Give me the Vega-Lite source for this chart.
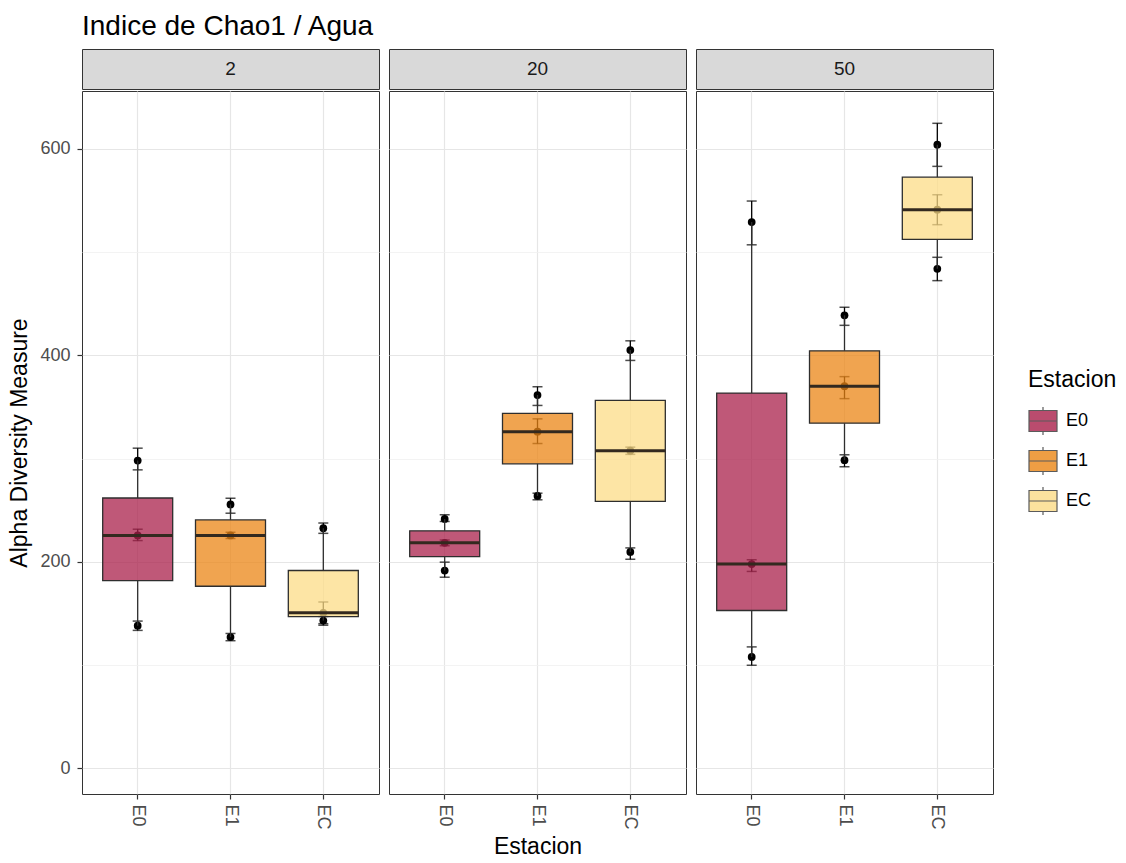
{
  "$schema": "https://vega.github.io/schema/vega-lite/v6.json",
  "padding": {"left": 8, "top": 12, "right": 5, "bottom": 5},
  "title": {"text": "Indice de Chao1 / Agua", "anchor": "start", "frame": "group", "fontSize": 28, "fontWeight": "normal", "color": "black", "font": "Liberation Sans", "offset": 8},
  "datasets": {
    "chao": [
      {"conc": "2", "est": "E0", "value": 298, "lo": 289, "hi": 310},
      {"conc": "2", "est": "E0", "value": 225.5, "lo": 220.5, "hi": 231.5},
      {"conc": "2", "est": "E0", "value": 138, "lo": 133.5, "hi": 142.5},
      {"conc": "2", "est": "E1", "value": 255.5, "lo": 247, "hi": 261.5},
      {"conc": "2", "est": "E1", "value": 225.5, "lo": 222.5, "hi": 228.5},
      {"conc": "2", "est": "E1", "value": 127, "lo": 123.5, "hi": 130.5},
      {"conc": "2", "est": "EC", "value": 232.5, "lo": 227.5, "hi": 237.5},
      {"conc": "2", "est": "EC", "value": 150.5, "lo": 140, "hi": 161},
      {"conc": "2", "est": "EC", "value": 143, "lo": 138.5, "hi": 147},
      {"conc": "20", "est": "E0", "value": 241.5, "lo": 239, "hi": 245.5},
      {"conc": "20", "est": "E0", "value": 218.3, "lo": 215.5, "hi": 221},
      {"conc": "20", "est": "E0", "value": 191.4, "lo": 185, "hi": 199.6},
      {"conc": "20", "est": "E1", "value": 361.5, "lo": 351.4, "hi": 369.5},
      {"conc": "20", "est": "E1", "value": 326, "lo": 314.5, "hi": 338.4},
      {"conc": "20", "est": "E1", "value": 263.7, "lo": 260, "hi": 266.4},
      {"conc": "20", "est": "EC", "value": 405, "lo": 395, "hi": 414},
      {"conc": "20", "est": "EC", "value": 307.6, "lo": 304, "hi": 311},
      {"conc": "20", "est": "EC", "value": 209.5, "lo": 202.4, "hi": 213.4},
      {"conc": "50", "est": "E0", "value": 529, "lo": 507, "hi": 549.4},
      {"conc": "50", "est": "E0", "value": 197.7, "lo": 190.6, "hi": 201.9},
      {"conc": "50", "est": "E0", "value": 107.8, "lo": 99.7, "hi": 117.5},
      {"conc": "50", "est": "E1", "value": 438.7, "lo": 429, "hi": 446.5},
      {"conc": "50", "est": "E1", "value": 370, "lo": 358, "hi": 379.3},
      {"conc": "50", "est": "E1", "value": 298.4, "lo": 292, "hi": 303.6},
      {"conc": "50", "est": "EC", "value": 604, "lo": 583, "hi": 624.7},
      {"conc": "50", "est": "EC", "value": 541, "lo": 526.5, "hi": 555.5},
      {"conc": "50", "est": "EC", "value": 483.7, "lo": 472.3, "hi": 494.9}
    ],
    "strips": [{"conc": "2"}, {"conc": "20"}, {"conc": "50"}]
  },
  "spacing": 8,
  "resolve": {"scale": {"color": "shared"}, "legend": {"color": "shared"}},
  "hconcat": [
    {
      "spacing": 0,
      "resolve": {"scale": {"color": "shared"}, "legend": {"color": "shared"}},
      "vconcat": [
        {
          "data": {"name": "strips"},
          "transform": [{"filter": "datum.conc === '2'"}],
          "width": 297, "height": 40,
          "view": {"fill": "#D9D9D9", "stroke": "#333333", "strokeWidth": 1},
          "mark": {"type": "text", "fontSize": 19, "color": "#1A1A1A", "font": "Liberation Sans"},
          "encoding": {"text": {"field": "conc"}}
        },
        {
          "data": {"name": "chao"},
          "transform": [{"filter": "datum.conc === '2'"}],
          "width": 297, "height": 703,
          "encoding": {
            "x": {"field": "est", "type": "nominal", "scale": {"type": "band", "domain": ["E0", "E1", "EC"], "paddingInner": 0, "paddingOuter": 0.1}, "axis": {"title": null, "labelAngle": 90, "grid": true, "bandPosition": 0.5}}
          },
          "layer": [
            {
              "mark": {"type": "errorbar", "color": "black", "thickness": 1.3, "ticks": {"size": 10, "thickness": 1.5, "color": "black"}},
              "encoding": {
                "y": {"field": "lo", "type": "quantitative", "scale": {"domain": [-25, 656], "nice": false, "zero": false}, "axis": {"title": "Alpha Diversity Measure", "values": [0, 200, 400, 600], "grid": true, "orient": "left"}},
                "y2": {"field": "hi"}
              }
            },
            {
              "mark": {"type": "circle", "size": 60, "color": "black", "opacity": 1},
              "encoding": {
                "y": {"field": "value", "type": "quantitative", "axis": {"title": null, "values": [100, 300, 500], "labels": false, "ticks": false, "grid": true, "gridColor": "#F0F0F0", "gridWidth": 0.8, "orient": "left"}}
              }
            },
            {
              "mark": {"type": "boxplot", "extent": "min-max", "size": 70, "box": {"stroke": "#2E2E2E", "strokeWidth": 1.3, "fillOpacity": 0.75}, "median": {"color": "#33291F", "thickness": 3, "opacity": 1}, "rule": {"color": "#2E2E2E", "strokeWidth": 1.3}, "ticks": false},
              "encoding": {
                "y": {"field": "value", "type": "quantitative", "axis": null},
                "color": {"field": "est", "type": "nominal", "title": "Estacion", "scale": {"domain": ["E0", "E1", "EC"], "range": ["#AA204B", "#EB8616", "#FCDC87"]},
                  "legend": {"orient": "none", "legendX": 946, "legendY": 320, "symbolType": "M-1,-0.75H1V0.75H-1Z M-1,0H1 M0,-0.75V-1 M0,0.75V1", "symbolSize": 784, "symbolStrokeColor": "#333333", "symbolStrokeWidth": 1.2, "symbolOpacity": 0.8, "titleFontSize": 23, "titleFontWeight": "normal", "titleColor": "black", "labelFontSize": 18, "labelColor": "black", "rowPadding": 6, "titlePadding": 14, "labelOffset": 8}}
              }
            }
          ],
          "resolve": {"axis": {"y": "independent"}}
        }
      ]
    },
    {
      "spacing": 0,
      "resolve": {"scale": {"color": "shared"}, "legend": {"color": "shared"}},
      "vconcat": [
        {
          "data": {"name": "strips"},
          "transform": [{"filter": "datum.conc === '20'"}],
          "width": 297, "height": 40,
          "view": {"fill": "#D9D9D9", "stroke": "#333333", "strokeWidth": 1},
          "mark": {"type": "text", "fontSize": 19, "color": "#1A1A1A", "font": "Liberation Sans"},
          "encoding": {"text": {"field": "conc"}}
        },
        {
          "data": {"name": "chao"},
          "transform": [{"filter": "datum.conc === '20'"}],
          "width": 297, "height": 703,
          "encoding": {
            "x": {"field": "est", "type": "nominal", "scale": {"type": "band", "domain": ["E0", "E1", "EC"], "paddingInner": 0, "paddingOuter": 0.1}, "axis": {"title": "Estacion", "labelAngle": 90, "grid": true, "bandPosition": 0.5}}
          },
          "layer": [
            {
              "mark": {"type": "errorbar", "color": "black", "thickness": 1.3, "ticks": {"size": 10, "thickness": 1.5, "color": "black"}},
              "encoding": {
                "y": {"field": "lo", "type": "quantitative", "scale": {"domain": [-25, 656], "nice": false, "zero": false}, "axis": {"title": null, "values": [0, 200, 400, 600], "labels": false, "ticks": false, "grid": true, "orient": "left"}},
                "y2": {"field": "hi"}
              }
            },
            {
              "mark": {"type": "circle", "size": 60, "color": "black", "opacity": 1},
              "encoding": {
                "y": {"field": "value", "type": "quantitative", "axis": {"title": null, "values": [100, 300, 500], "labels": false, "ticks": false, "grid": true, "gridColor": "#F0F0F0", "gridWidth": 0.8, "orient": "left"}}
              }
            },
            {
              "mark": {"type": "boxplot", "extent": "min-max", "size": 70, "box": {"stroke": "#2E2E2E", "strokeWidth": 1.3, "fillOpacity": 0.75}, "median": {"color": "#33291F", "thickness": 3, "opacity": 1}, "rule": {"color": "#2E2E2E", "strokeWidth": 1.3}, "ticks": false},
              "encoding": {
                "y": {"field": "value", "type": "quantitative", "axis": null},
                "color": {"field": "est", "type": "nominal", "title": "Estacion", "scale": {"domain": ["E0", "E1", "EC"], "range": ["#AA204B", "#EB8616", "#FCDC87"]},
                  "legend": {"orient": "none", "legendX": 946, "legendY": 320, "symbolType": "M-1,-0.75H1V0.75H-1Z M-1,0H1 M0,-0.75V-1 M0,0.75V1", "symbolSize": 784, "symbolStrokeColor": "#333333", "symbolStrokeWidth": 1.2, "symbolOpacity": 0.8, "titleFontSize": 23, "titleFontWeight": "normal", "titleColor": "black", "labelFontSize": 18, "labelColor": "black", "rowPadding": 6, "titlePadding": 14, "labelOffset": 8}}
              }
            }
          ],
          "resolve": {"axis": {"y": "independent"}}
        }
      ]
    },
    {
      "spacing": 0,
      "resolve": {"scale": {"color": "shared"}, "legend": {"color": "shared"}},
      "vconcat": [
        {
          "data": {"name": "strips"},
          "transform": [{"filter": "datum.conc === '50'"}],
          "width": 297, "height": 40,
          "view": {"fill": "#D9D9D9", "stroke": "#333333", "strokeWidth": 1},
          "mark": {"type": "text", "fontSize": 19, "color": "#1A1A1A", "font": "Liberation Sans"},
          "encoding": {"text": {"field": "conc"}}
        },
        {
          "data": {"name": "chao"},
          "transform": [{"filter": "datum.conc === '50'"}],
          "width": 297, "height": 703,
          "encoding": {
            "x": {"field": "est", "type": "nominal", "scale": {"type": "band", "domain": ["E0", "E1", "EC"], "paddingInner": 0, "paddingOuter": 0.1}, "axis": {"title": null, "labelAngle": 90, "grid": true, "bandPosition": 0.5}}
          },
          "layer": [
            {
              "mark": {"type": "errorbar", "color": "black", "thickness": 1.3, "ticks": {"size": 10, "thickness": 1.5, "color": "black"}},
              "encoding": {
                "y": {"field": "lo", "type": "quantitative", "scale": {"domain": [-25, 656], "nice": false, "zero": false}, "axis": {"title": null, "values": [0, 200, 400, 600], "labels": false, "ticks": false, "grid": true, "orient": "left"}},
                "y2": {"field": "hi"}
              }
            },
            {
              "mark": {"type": "circle", "size": 60, "color": "black", "opacity": 1},
              "encoding": {
                "y": {"field": "value", "type": "quantitative", "axis": {"title": null, "values": [100, 300, 500], "labels": false, "ticks": false, "grid": true, "gridColor": "#F0F0F0", "gridWidth": 0.8, "orient": "left"}}
              }
            },
            {
              "mark": {"type": "boxplot", "extent": "min-max", "size": 70, "box": {"stroke": "#2E2E2E", "strokeWidth": 1.3, "fillOpacity": 0.75}, "median": {"color": "#33291F", "thickness": 3, "opacity": 1}, "rule": {"color": "#2E2E2E", "strokeWidth": 1.3}, "ticks": false},
              "encoding": {
                "y": {"field": "value", "type": "quantitative", "axis": null},
                "color": {"field": "est", "type": "nominal", "title": "Estacion", "scale": {"domain": ["E0", "E1", "EC"], "range": ["#AA204B", "#EB8616", "#FCDC87"]},
                  "legend": {"orient": "none", "legendX": 946, "legendY": 320, "symbolType": "M-1,-0.75H1V0.75H-1Z M-1,0H1 M0,-0.75V-1 M0,0.75V1", "symbolSize": 784, "symbolStrokeColor": "#333333", "symbolStrokeWidth": 1.2, "symbolOpacity": 0.8, "titleFontSize": 23, "titleFontWeight": "normal", "titleColor": "black", "labelFontSize": 18, "labelColor": "black", "rowPadding": 6, "titlePadding": 14, "labelOffset": 8}}
              }
            }
          ],
          "resolve": {"axis": {"y": "independent"}}
        }
      ]
    }
  ],
  "config": {
    "font": "Liberation Sans",
    "view": {"stroke": "#333333", "strokeWidth": 1},
    "axis": {"domain": false, "labelFont": "Liberation Sans", "labelFontSize": 18, "labelColor": "#4D4D4D", "tickColor": "#333333", "tickSize": 5, "tickWidth": 1.2, "gridColor": "#E6E6E6", "gridWidth": 1.2, "titleFont": "Liberation Sans", "titleFontSize": 23, "titleFontWeight": "normal", "titleColor": "black"},
    "axisY": {"labelPadding": 7, "titlePadding": 8},
    "axisX": {"labelPadding": 5, "titlePadding": 6},
    "legend": {"labelFont": "Liberation Sans", "titleFont": "Liberation Sans"}
  }
}
